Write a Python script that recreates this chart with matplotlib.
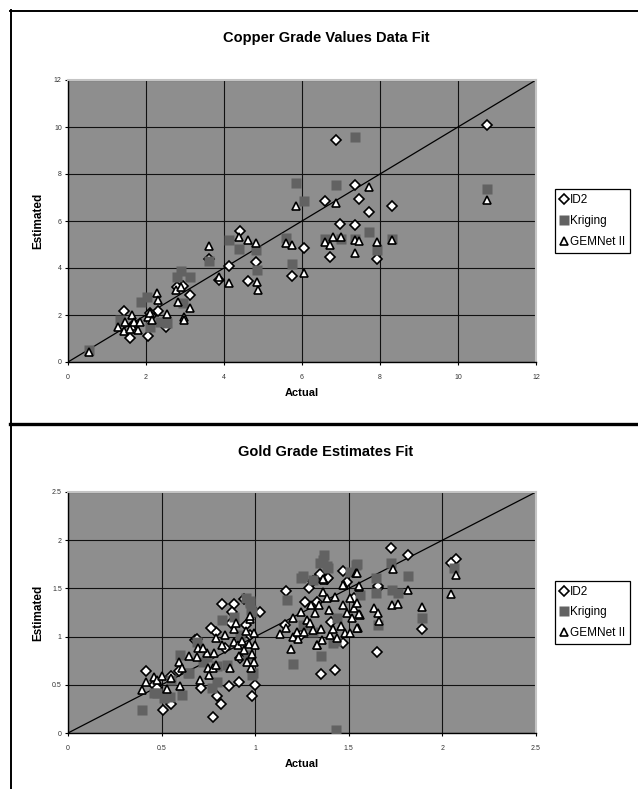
import numpy as np
import matplotlib.pyplot as plt
from matplotlib.lines import Line2D

plt.rcParams['font.family'] = ['Liberation Sans', 'DejaVu Sans']

# 1. Copper grade values (actual, estimated)
cu_id2_x = [10.74, 6.86, 7.36, 7.46, 6.59, 8.32, 7.72, 6.97, 7.36, 4.41, 6.04, 6.72, 7.93,
            4.81, 4.13, 3.62, 5.75, 4.61, 3.86, 3.13, 2.96, 2.79, 2.32, 1.44, 2.04, 1.59,
            2.51, 2.09, 1.70, 2.12]
cu_id2_y = [10.10, 9.43, 7.53, 6.94, 6.87, 6.64, 6.37, 5.86, 5.83, 5.59, 4.85, 4.48, 4.38,
            4.26, 4.09, 4.38, 3.66, 3.43, 3.49, 2.84, 3.23, 3.21, 2.17, 2.17, 1.12, 1.02,
            1.50, 2.08, 1.60, 1.95]
cu_krig_x = [0.55, 1.33, 1.87, 2.03, 2.10, 2.36, 2.53, 2.79, 2.89, 3.13, 2.96, 3.62, 4.13,
             4.39, 4.81, 4.84, 5.58, 5.75, 5.84, 6.05, 6.86, 7.36, 10.74, 7.72, 6.59, 7.36,
             6.99, 7.93, 8.32]
cu_krig_y = [0.51, 1.79, 2.57, 2.78, 1.50, 1.72, 1.65, 3.60, 3.87, 3.60, 2.50, 4.30, 5.19,
             4.79, 4.77, 3.91, 5.26, 4.16, 7.60, 6.84, 7.53, 9.57, 7.35, 5.55, 5.22, 5.22,
             5.22, 4.77, 5.22]
cu_gem_x = [0.55, 1.27, 1.46, 1.44, 1.63, 1.63, 1.68, 1.59, 1.80, 1.85, 2.04, 2.10, 2.15,
            2.29, 2.32, 2.53, 2.77, 2.83, 2.89, 2.98, 2.97, 3.13, 3.62, 3.87, 4.13, 4.39,
            4.61, 4.81, 4.84, 4.86, 5.58, 5.75, 5.84, 6.05, 7.72, 6.86, 10.74, 6.59, 6.80,
            6.72, 6.99, 7.36, 7.47, 7.93, 8.32, 7.36]
cu_gem_y = [0.44, 1.50, 1.69, 1.32, 1.55, 2.00, 1.72, 1.39, 1.36, 1.69, 1.90, 2.10, 1.79,
            2.92, 2.64, 2.03, 3.06, 2.57, 3.21, 1.93, 1.79, 2.31, 4.94, 3.63, 3.35, 5.33,
            5.19, 5.05, 3.42, 3.06, 5.05, 4.98, 6.65, 3.77, 7.43, 6.78, 6.89, 5.12, 5.33,
            4.98, 5.30, 5.19, 5.16, 5.09, 5.19, 4.62]
cu_ticks = [0, 2, 4, 6, 8, 10, 12]

# 2. Gold grade estimates (actual, estimated)
au_id2_x = [1.728, 1.817, 2.070, 2.048, 1.167, 0.821, 0.887, 0.942, 1.890, 1.652, 1.424,
            1.351, 1.470, 0.418, 0.998, 0.984, 0.911, 0.795, 0.815, 0.772, 0.549, 0.506,
            0.712, 0.862, 0.791, 0.872, 1.385, 1.345, 1.265, 1.654, 1.310, 1.346, 1.390,
            1.467, 1.654, 1.287, 1.330, 1.493, 1.407, 1.157, 1.243, 1.526, 0.591, 0.548,
            0.461, 0.474, 0.678, 0.765, 0.874, 0.950, 1.000, 0.841, 0.917, 0.972, 1.026,
            0.690]
au_id2_y = [1.914, 1.845, 1.810, 1.759, 1.472, 1.340, 1.340, 1.385, 1.076, 0.841, 0.655,
            0.613, 0.932, 0.645, 0.500, 0.386, 0.526, 0.386, 0.300, 0.161, 0.303, 0.234,
            0.465, 0.488, 1.047, 1.139, 1.600, 1.638, 1.362, 1.500, 1.580, 1.646, 1.610,
            1.680, 1.524, 1.500, 1.362, 1.569, 1.155, 1.121, 1.017, 1.397, 0.638, 0.593,
            0.500, 0.465, 0.966, 1.086, 1.259, 1.121, 1.259, 0.879, 0.776, 1.017, 1.260,
            0.976]
au_krig_x = [0.396, 0.461, 0.515, 0.607, 0.598, 0.646, 0.689, 0.743, 0.798, 0.820, 0.852,
             0.889, 0.917, 0.950, 0.972, 0.983, 0.983, 0.961, 0.722, 0.972, 0.980, 1.168,
             1.243, 1.200, 1.352, 1.363, 1.367, 1.391, 1.417, 1.432, 1.504, 1.537, 1.559,
             1.646, 1.646, 1.654, 1.728, 1.733, 1.761, 1.817, 1.890, 2.063, 1.309, 1.254,
             1.439, 1.254, 1.310, 1.542, 1.382, 1.430, 1.346, 0.474, 0.545, 0.643, 0.794,
             0.990, 0.550, 0.770]
au_krig_y = [0.241, 0.414, 0.362, 0.397, 0.807, 0.621, 0.941, 0.786, 0.534, 1.169, 0.703,
             1.207, 1.017, 1.397, 1.345, 0.603, 1.259, 0.810, 0.741, 1.368, 1.280, 1.375,
             1.611, 0.714, 0.803, 1.793, 1.845, 1.707, 0.931, 0.031, 1.672, 1.741, 1.431,
             1.610, 1.448, 1.121, 1.759, 1.483, 1.448, 1.631, 1.190, 1.707, 1.052, 1.121,
             1.190, 1.628, 1.590, 1.750, 1.733, 0.950, 1.767, 0.413, 0.378, 0.620, 0.690,
             0.620, 0.550, 0.470]
au_gem_x = [0.396, 0.417, 0.457, 0.478, 0.504, 0.548, 0.530, 0.598, 0.591, 0.607, 0.646,
            0.689, 0.693, 0.707, 0.743, 0.754, 0.748, 0.780, 0.776, 0.791, 0.793, 0.820,
            0.841, 0.863, 0.885, 0.885, 0.896, 0.907, 0.911, 0.928, 0.939, 0.950, 0.954,
            0.965, 0.972, 0.976, 0.983, 0.993, 0.998, 0.993, 0.722, 0.972, 1.135, 1.167,
            1.189, 1.200, 1.200, 1.228, 1.222, 1.243, 1.261, 1.276, 1.291, 1.298, 1.309,
            1.320, 1.330, 1.341, 1.352, 1.359, 1.363, 1.370, 1.385, 1.396, 1.400, 1.417,
            1.428, 1.439, 1.457, 1.467, 1.472, 1.478, 1.493, 1.504, 1.515, 1.526, 1.539,
            1.543, 1.548, 1.552, 1.559, 1.328, 1.506, 1.546, 1.556, 1.364, 1.467, 1.556,
            1.542, 1.734, 1.733, 1.765, 1.817, 1.890, 2.048, 2.070, 1.637, 1.654, 1.659]
au_gem_y = [0.448, 0.534, 0.586, 0.552, 0.593, 0.569, 0.455, 0.483, 0.741, 0.672, 0.800,
            0.793, 0.879, 0.552, 0.828, 0.603, 0.672, 0.834, 0.672, 0.983, 0.703, 0.912,
            1.021, 0.672, 1.083, 0.939, 1.138, 0.912, 0.800, 0.955, 0.859, 1.062, 0.741,
            0.928, 1.186, 0.672, 0.824, 1.041, 0.912, 0.741, 0.879, 1.212, 1.024, 1.086,
            0.872, 1.197, 1.000, 0.972, 1.052, 1.255, 1.052, 1.172, 1.138, 1.328, 1.066,
            1.241, 0.914, 1.328, 1.076, 0.966, 1.466, 1.586, 1.397, 1.276, 1.017, 1.076,
            1.414, 0.986, 1.110, 1.328, 1.534, 1.034, 1.241, 1.397, 1.190, 1.293, 1.655,
            1.345, 1.086, 1.517, 1.224, 0.917, 1.040, 1.090, 1.230, 1.600, 1.535, 1.524,
            1.663, 1.705, 1.328, 1.334, 1.483, 1.310, 1.441, 1.638, 1.293, 1.241, 1.162]
au_ticks = [0, 0.5, 1, 1.5, 2, 2.5]
au_labels = ['0', '0.5', '1', '1.5', '2', '2.5']

W, H = 638, 789
fig = plt.figure(figsize=(W / 100, H / 100), dpi=100)

# frames around the two chart objects
fig.add_artist(Line2D([10.5 / W, 10.5 / W], [0, 1 - 10 / H], color='black', lw=1.4))
fig.add_artist(Line2D([10 / W, 1], [1 - 10.5 / H, 1 - 10.5 / H], color='black', lw=1.4))
fig.add_artist(Line2D([10 / W, 1], [1 - 424 / H, 1 - 424 / H], color='black', lw=2.4))


def panel(top, bottom, title_y, ids, krig, gem, ticks, labels, title):
    ax = fig.add_axes([68 / W, 1 - bottom / H, 468 / W, (bottom - top) / H])
    ax.set_facecolor('#8e8e8e')
    lim = ticks[-1]
    ax.plot([0, lim], [0, lim], color='black', lw=0.9, zorder=1.5)
    ax.plot(ids[0], ids[1], 'D', ms=5, mfc='white', mec='black', mew=1.2, ls='none',
            label='ID2', zorder=3)
    ax.plot(krig[0], krig[1], 's', ms=6.5, mfc='#626262', mec='none', ls='none',
            label='Kriging', zorder=4)
    ax.plot(gem[0], gem[1], '^', ms=6, mfc='white', mec='black', mew=1.2, ls='none',
            label='GEMNet II', zorder=5)
    ax.set_xlim(0, lim)
    ax.set_ylim(0, lim)
    ax.set_xticks(ticks)
    ax.set_yticks(ticks)
    ax.set_xticklabels(labels)
    ax.set_yticklabels(labels)
    ax.grid(color='#111111', lw=0.8)
    ax.set_axisbelow(True)
    ax.tick_params(labelsize=5, labelcolor='#333333', length=2.5, width=0.8)
    ax.tick_params(axis='x', pad=6)
    ax.tick_params(axis='y', pad=2)
    for s in ['top', 'right']:
        ax.spines[s].set_color('#c4c4c4')
        ax.spines[s].set_linewidth(1.5)
    for s in ['left', 'bottom']:
        ax.spines[s].set_linewidth(1.0)
    fig.text(326 / W, 1 - title_y / H, title, ha='center', va='center',
             weight='bold', size=10.5)
    fig.text(302 / W, 1 - (bottom + 31) / H, 'Actual', ha='center', va='center',
             weight='bold', size=8)
    fig.text(38.6 / W, 1 - (top + bottom) / 2 / H, 'Estimated', ha='center',
             va='center', rotation=90, weight='bold', size=8.5)
    leg = ax.legend(loc='center left', bbox_to_anchor=(555 / W, 1 - (top + bottom) / 2 / H),
                    bbox_transform=fig.transFigure, fontsize=8.5, frameon=True,
                    fancybox=False, framealpha=1, edgecolor='black', borderpad=0.4,
                    handlelength=0.7, handletextpad=0.2, labelspacing=0.75,
                    borderaxespad=0)
    leg.get_frame().set_linewidth(0.9)
    return ax


panel(80, 362, 38, (cu_id2_x, cu_id2_y), (cu_krig_x, cu_krig_y), (cu_gem_x, cu_gem_y),
      cu_ticks, [str(t) for t in cu_ticks], 'Copper Grade Values Data Fit')
panel(492, 733, 452, (au_id2_x, au_id2_y), (au_krig_x, au_krig_y), (au_gem_x, au_gem_y),
      au_ticks, au_labels, 'Gold Grade Estimates Fit')

fig.savefig('out.png', dpi=100)
